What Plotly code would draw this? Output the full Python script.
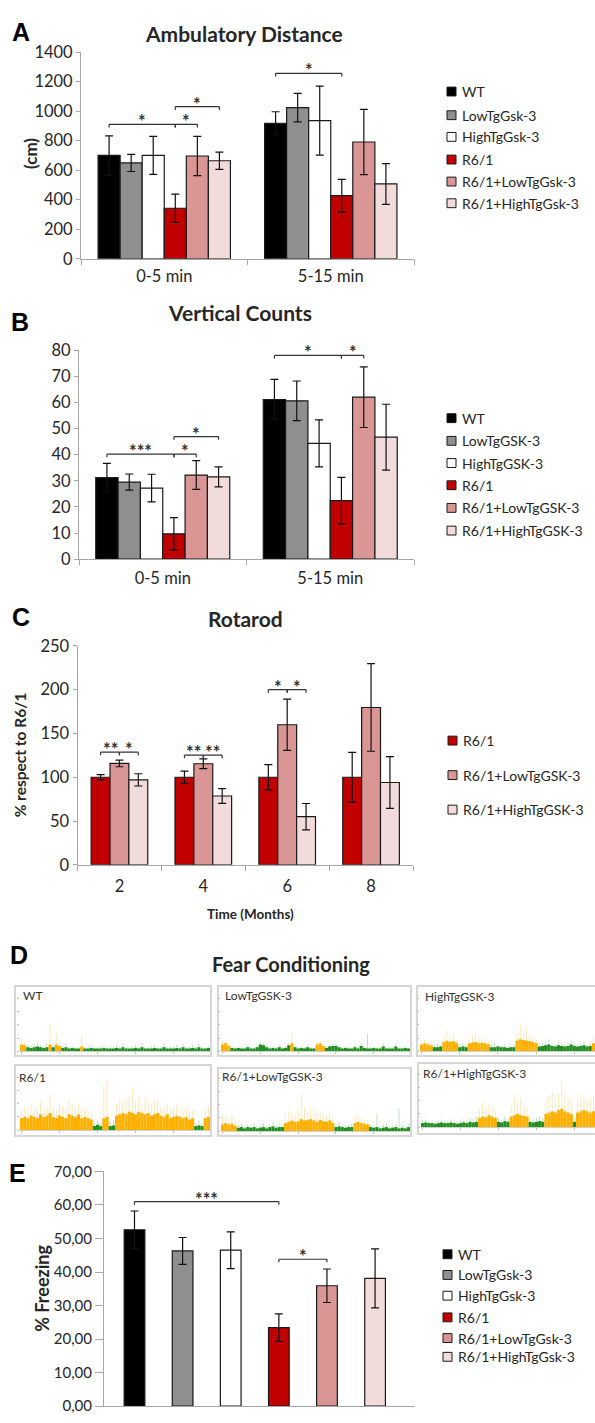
import plotly.graph_objects as go

W, H = 595, 1423
def fx(p): return p / W
def fy(p): return 1 - p / H

FONT = "Lato"
TXT = "#262626"
AX = "#a6a6a6"
EDGE = "#1a1a1a"
TICK = 16.5
TITLE = 21

# ---------------- data ----------------
genotypes_gsk = ["WT", "LowTgGsk-3", "HighTgGsk-3", "R6/1", "R6/1+LowTgGsk-3", "R6/1+HighTgGsk-3"]
genotypes_GSK = ["WT", "LowTgGSK-3", "HighTgGSK-3", "R6/1", "R6/1+LowTgGSK-3", "R6/1+HighTgGSK-3"]
genotypes_rot = ["R6/1", "R6/1+LowTgGSK-3", "R6/1+HighTgGSK-3"]
colors6 = ["#000000", "#8f8f8f", "#ffffff", "#c00000", "#d99694", "#f2dcdb"]
colors_rot = ["#c00000", "#d99694", "#f2dcdb"]
periods = ["0-5 min", "5-15 min"]
months = ["2", "4", "6", "8"]

# A: Ambulatory distance (cm)
amb_0_5 = [700, 649, 700, 342, 696, 664]
amb_0_5_err = [133, 58, 129, 96, 133, 59]
amb_5_15 = [918, 1024, 936, 427, 791, 507]
amb_5_15_err = [78, 97, 234, 111, 221, 138]
amb_ticks = [0, 200, 400, 600, 800, 1000, 1200, 1400]
# brackets: (group, bar_i, bar_j, height, label)
amb_sig = [(0, 0, 3, 911, "*"), (0, 3, 4, 911, "*"), (0, 3, 5, 1030, "*"), (1, 0, 3, 1256, "*")]

# B: Vertical counts
vc_0_5 = [31.2, 29.5, 27.2, 9.7, 32.2, 31.5]
vc_0_5_err = [5.5, 3.1, 5.3, 6.2, 5.5, 3.8]
vc_5_15 = [61.1, 60.6, 44.3, 22.4, 62.0, 46.7]
vc_5_15_err = [7.7, 7.6, 9.0, 8.9, 11.6, 12.6]
vc_ticks = [0, 10, 20, 30, 40, 50, 60, 70, 80]
vc_sig = [(0, 0, 3, 40.2, "***"), (0, 3, 4, 40.2, "*"), (0, 3, 5, 46.9, "*"),
          (1, 0, 3, 78.0, "*"), (1, 3, 4, 78.0, "*")]

# C: Rotarod (% respect to R6/1)
rot_r6 = [100, 100, 100, 100]
rot_r6_err = [3, 7, 14.5, 28.4]
rot_low = [115.8, 115.4, 160, 179.7]
rot_low_err = [3.8, 5.6, 29.3, 50]
rot_high = [97, 78.6, 55, 94]
rot_high_err = [7, 8.5, 15, 29.5]
rot_ticks = [0, 50, 100, 150, 200, 250]
rot_sig = [(0, 0, 1, 128.6, "**"), (0, 1, 2, 128.6, "*"), (1, 0, 1, 125.2, "**"),
           (1, 1, 2, 125.2, "**"), (2, 0, 1, 200, "*"), (2, 1, 2, 200, "*")]

# E: % Freezing
freeze = [52.6, 46.3, 46.5, 23.4, 35.9, 38.1]
freeze_err = [5.6, 4.0, 5.5, 4.1, 5.0, 8.8]
freeze_tickvals = [0, 10, 20, 30, 40, 50, 60, 70]
freeze_ticktext = ["0,00", "10,00", "20,00", "30,00", "40,00", "50,00", "60,00", "70,00"]
freeze_sig = [(0, 3, 61.0, "***"), (3, 4, 43.8, "*")]

# D: fear conditioning traces (activity level per time bin, and bins flagged orange)
fc_names = ["WT", "LowTgGSK-3", "HighTgGSK-3", "R6/1", "R6/1+LowTgGSK-3", "R6/1+HighTgGSK-3"]
wt_base = [0.5,0.45,0.3,0.25,0.3,0.35,0.3,0.25,0.3,0.5,0.3,0.5,0.4,0.25,0.3,0.2,0.25,0.2,0.2,0.35,
           0.2,0.2,0.25,0.2,0.2,0.2,0.25,0.2,0.2,0.2,0.25,0.2,0.3,0.2,0.2,0.2,0.25,0.2,0.3,0.2,
           0.2,0.2,0.25,0.2,0.2,0.3,0.2,0.2,0.2,0.25,0.2,0.3,0.2,0.2,0.25,0.2,0.3,0.2,0.2,0.25]
wt_peak = [0.9,0.7,0.5,0.4,0.6,0.7,0.5,0.4,0.6,2.0,0.5,1.4,0.9,0.4,0.6,0.3,0.4,0.3,0.3,1.2,
           0.3,0.4,0.5,0.3,0.3,0.4,0.5,0.3,0.3,0.4,0.5,0.3,0.6,0.3,0.3,0.4,0.5,0.3,0.6,0.3,
           0.3,0.4,0.5,0.3,0.4,0.6,0.3,0.3,0.4,0.5,0.3,0.6,0.3,0.3,0.5,0.3,0.6,0.3,0.3,0.4]
wt_orange = [[0, 1], [9, 9], [11, 12], [19, 19]]

low_base = [0.5,0.6,0.4,0.25,0.2,0.25,0.2,0.2,0.3,0.2,0.2,0.3,0.5,0.45,0.3,0.2,0.25,0.2,0.3,0.2,
            0.25,0.45,0.6,0.3,0.2,0.25,0.2,0.3,0.2,0.2,0.5,0.6,0.4,0.25,0.35,0.4,0.4,0.3,0.2,0.25,
            0.2,0.2,0.3,0.2,0.4,0.25,0.2,0.2,0.25,0.2,0.2,0.35,0.2,0.2,0.2,0.35,0.2,0.2,0.25,0.2]
low_peak = [0.8,0.9,0.6,0.4,0.3,0.4,0.3,0.3,0.5,0.3,0.3,0.5,0.7,0.6,0.4,0.3,0.4,0.3,0.5,0.3,
            0.4,0.6,1.4,0.5,0.3,0.4,0.3,0.5,0.3,0.3,0.7,0.8,0.6,0.4,0.5,0.6,0.6,0.4,0.3,0.4,
            0.3,0.3,0.5,0.3,0.6,0.4,1.3,0.3,0.4,0.3,0.3,0.6,0.3,0.3,0.3,0.6,0.3,0.3,0.4,0.3]
low_orange = [[0, 2], [22, 22], [30, 32]]

high_base = [0.5,0.6,0.5,0.45,0.3,0.3,0.35,0.7,0.8,0.7,0.75,0.6,0.3,0.35,0.3,0.6,0.65,0.7,0.6,0.65,
             0.6,0.5,0.3,0.3,0.35,0.3,0.3,0.25,0.3,0.3,0.8,0.9,0.85,0.8,0.75,0.7,0.6,0.35,0.4,0.45,
             0.5,0.4,0.35,0.45,0.4,0.35,0.4,0.5,0.4,0.35,0.4,0.45,0.35,0.4,0.6]
high_peak = [0.8,0.9,0.8,0.7,0.5,0.6,0.5,1.2,1.6,1.1,1.3,0.9,0.5,0.6,0.4,1.0,1.2,1.4,1.0,1.1,
             0.9,0.8,0.5,0.6,0.5,0.4,0.5,0.4,0.4,0.5,1.3,2.0,1.6,1.8,1.3,1.2,0.9,0.6,0.6,0.7,
             0.9,0.6,0.5,0.7,0.6,0.5,0.6,0.8,0.6,0.5,0.6,0.7,0.5,0.6,1.2]
high_orange = [[0, 3], [7, 11], [15, 21], [30, 36], [54, 54]]

r6_base = [0.9,1.0,0.9,1.1,1.0,0.9,1.2,1.0,1.1,1.3,1.0,0.9,1.1,1.0,0.9,1.2,1.1,1.0,1.2,0.9,
           1.0,0.9,0.8,0.3,0.4,0.3,0.9,1.0,0.3,0.35,1.1,1.2,1.3,1.2,1.4,1.3,1.2,1.4,1.3,1.2,
           1.3,1.1,1.2,1.3,1.1,1.0,1.2,0.9,1.0,1.1,1.0,0.9,1.0,0.8,0.9,0.3,0.35,0.3,0.9,1.0]
r6_peak = [1.5,1.8,1.6,2.0,1.5,1.7,2.2,1.6,1.8,2.7,1.7,1.5,2.0,1.8,1.6,2.3,1.9,1.7,2.0,1.6,
           1.7,1.5,1.3,0.6,0.7,0.6,3.4,3.8,0.6,0.7,2.0,2.4,2.1,2.3,2.6,3.2,2.2,2.5,2.0,2.5,
           2.2,1.9,2.1,2.3,1.8,1.7,2.0,1.6,1.8,1.9,1.5,1.6,1.7,1.4,1.5,0.6,0.7,0.6,1.6,1.8]
r6_orange = [[0, 22], [26, 27], [30, 54], [58, 59]]

r6low_base = [0.5,0.6,0.5,0.55,0.4,0.25,0.3,0.2,0.3,0.25,0.3,0.2,0.25,0.3,0.2,0.3,0.35,0.25,0.3,0.3,
              0.6,0.7,0.8,0.7,0.75,0.9,0.8,0.85,0.9,0.8,0.7,0.85,0.75,0.7,0.8,0.6,0.3,0.35,0.3,0.25,
              0.3,0.3,0.6,0.7,0.6,0.55,0.5,0.3,0.25,0.3,0.2,0.25,0.3,0.2,0.25,0.3,0.2,0.25,0.2,0.3]
r6low_peak = [1.1,1.3,1.0,1.2,0.8,0.5,0.6,0.4,0.5,0.4,0.6,0.4,0.5,0.6,0.4,0.5,0.7,0.5,0.6,0.5,
              1.2,1.5,1.4,1.2,1.6,2.9,1.8,1.5,1.8,1.6,1.4,1.5,1.3,1.2,1.4,1.0,0.6,0.7,0.5,0.4,
              0.5,0.6,1.1,1.2,1.0,0.9,0.8,0.5,0.4,1.3,0.4,0.5,0.6,0.4,0.5,0.6,1.7,0.5,0.4,0.5]
r6low_orange = [[0, 4], [20, 35], [42, 46]]

r6high_base = [0.3,0.35,0.3,0.3,0.25,0.3,0.35,0.3,0.3,0.35,0.3,0.25,0.3,0.35,0.3,0.4,0.35,0.4,0.7,0.8,
               0.75,0.9,0.8,0.7,0.4,0.35,0.45,0.4,0.8,0.9,1.0,0.9,0.85,0.8,0.4,0.35,0.4,0.45,0.4,1.0,
               1.1,1.2,1.1,1.3,1.4,1.2,1.1,1.0,0.4,1.1,1.2,1.3,1.2,1.1,1.2]
r6high_peak = [0.5,0.6,0.5,0.5,0.4,0.5,0.6,0.5,0.5,0.6,0.5,0.4,0.5,0.6,0.5,0.7,0.6,0.8,1.4,1.9,
               1.5,1.8,1.6,1.3,0.7,0.6,0.8,0.7,1.6,2.5,1.9,2.2,1.7,1.5,0.7,0.6,0.7,0.8,0.7,2.0,
               2.4,2.7,2.2,2.5,3.4,2.6,2.3,2.0,0.7,2.2,2.5,2.3,2.0,2.1,2.4]
r6high_orange = [[18, 23], [28, 33], [39, 47], [49, 54]]

fc_base = [wt_base, low_base, high_base, r6_base, r6low_base, r6high_base]
fc_peak = [wt_peak, low_peak, high_peak, r6_peak, r6low_peak, r6high_peak]
fc_orange = [wt_orange, low_orange, high_orange, r6_orange, r6low_orange, r6high_orange]

# ---------------- figure ----------------
fig = go.Figure()
shapes = []
annots = []

def txt(x, y, s, size=14, bold=False, xanchor="center", yanchor="middle", angle=0,
        family=FONT, color=TXT):
    annots.append(dict(x=fx(x), y=fy(y), xref="paper", yref="paper", text=("<b>%s</b>" % s) if bold else s,
                       showarrow=False, xanchor=xanchor, yanchor=yanchor, textangle=angle, borderpad=0,
                       font=dict(family=family, size=size, color=color)))

def ybase(domain_px, rng, ticks, ticktext=None, size=TICK, ticklen=4):
    d = dict(domain=[fy(domain_px[1]), fy(domain_px[0])], range=rng, tickvals=ticks,
             showline=True, linecolor=AX, linewidth=1, ticks="outside", tickcolor=AX, ticklen=ticklen,
             showgrid=False, zeroline=False, tickfont=dict(family=FONT, size=size, color=TXT))
    if ticktext is not None:
        d["ticktext"] = ticktext
    return d

def xcat(domain_px, cats, labels=True, standoff=6):
    return dict(domain=[fx(domain_px[0]), fx(domain_px[1])], type="category",
                categoryorder="array", categoryarray=cats, range=[-0.5, len(cats) - 0.5],
                showline=True, linecolor=AX, linewidth=1, ticks="outside" if labels else "",
                tickson="boundaries", tickcolor=AX, ticklen=5, showgrid=False, zeroline=False,
                showticklabels=labels, ticklabelstandoff=standoff,
                tickfont=dict(family=FONT, size=TICK, color=TXT))

def grouped(xa, ya, cats, means_by_group, errs_by_group, colors, names, frac):
    n = len(names)
    w = frac / n
    for i in range(n):
        fig.add_trace(go.Bar(
            x=cats, y=[m[i] for m in means_by_group], name=names[i],
            width=w, offset=-frac / 2 + i * w,
            marker=dict(color=colors[i], line=dict(color=EDGE, width=1.2)),
            error_y=dict(type="data", array=[e[i] for e in errs_by_group], color="#111111",
                         thickness=1.2, width=4),
            xaxis=xa, yaxis=ya, showlegend=False))

def center(g, i, n, frac):
    return g - frac / 2 + (i + 0.5) * frac / n

def bracket(xa, ya, x0, x1, y, tick, label, star_size=18):
    for (a, b, c, d) in [(x0, y, x1, y), (x0, y, x0, y - tick), (x1, y, x1, y - tick)]:
        shapes.append(dict(type="line", xref=xa, yref=ya, x0=a, y0=b, x1=c, y1=d,
                           line=dict(color="#333333", width=1.2)))
    annots.append(dict(x=(x0 + x1) / 2, y=y, xref=xa, yref=ya, text="<b>%s</b>" % label, showarrow=False,
                       xanchor="center", yanchor="bottom", yshift=-9, borderpad=0,
                       font=dict(family=FONT, size=star_size, color="#333333")))

def legend(names, colors, xsq, ycs, xt, size=14):
    for nm, c, yc in zip(names, colors, ycs):
        shapes.append(dict(type="rect", xref="paper", yref="paper", x0=fx(xsq), x1=fx(xsq + 9),
                           y0=fy(yc + 4.5), y1=fy(yc - 4.5), fillcolor=c,
                           line=dict(color=EDGE, width=1)))
        txt(xt, yc, nm, size=size, xanchor="left")

layout = dict(width=W, height=H, margin=dict(l=0, r=0, t=0, b=0), paper_bgcolor="white",
              plot_bgcolor="rgba(0,0,0,0)", barmode="overlay", showlegend=False)

# ---- A ----
FA = 0.795
grouped("x", "y", periods, [amb_0_5, amb_5_15], [amb_0_5_err, amb_5_15_err], colors6, genotypes_gsk, FA)
layout["xaxis"] = xcat((81, 414), periods, standoff=2)
layout["yaxis"] = ybase((42.7, 252.3), [0, 1400], amb_ticks)
for g, i, j, h, lab in amb_sig:
    bracket("x", "y", center(g, i, 6, FA), center(g, j, 6, FA), h, 22, lab)
txt(21, 22, "A", size=25, bold=True, family="Liberation Sans", color="black")
txt(244, 24, "Ambulatory Distance", size=TITLE, bold=True)
txt(31, 146, "(cm)", size=17, bold=True, angle=-90)
legend(genotypes_gsk, colors6, 447, [82.7, 106.7, 128.7, 151.7, 174, 196], 461)

# ---- B ----
FB = 0.80
grouped("x2", "y2", periods, [vc_0_5, vc_5_15], [vc_0_5_err, vc_5_15_err], colors6, genotypes_GSK, FB)
layout["xaxis2"] = xcat((79, 414), periods, standoff=4)
layout["xaxis2"]["anchor"] = "y2"
layout["yaxis2"] = ybase((345, 557), [0, 80], vc_ticks)
layout["yaxis2"]["anchor"] = "x2"
for g, i, j, h, lab in vc_sig:
    bracket("x2", "y2", center(g, i, 6, FB), center(g, j, 6, FB), h, 1.2, lab)
txt(20, 316, "B", size=25, bold=True, family="Liberation Sans", color="black")
txt(240, 307, "Vertical Counts", size=TITLE, bold=True)
legend(genotypes_GSK, colors6, 447, [414, 437, 459.5, 482, 505, 528], 461)

# ---- C ----
FC = 0.675
grouped("x3", "y3", months, [[a, b, c] for a, b, c in zip(rot_r6, rot_low, rot_high)],
        [[a, b, c] for a, b, c in zip(rot_r6_err, rot_low_err, rot_high_err)],
        colors_rot, genotypes_rot, FC)
layout["xaxis3"] = xcat((77.5, 413), months, standoff=6)
layout["xaxis3"]["anchor"] = "y3"
layout["yaxis3"] = ybase((645, 867), [0, 250], rot_ticks)
layout["yaxis3"]["anchor"] = "x3"
for g, i, j, h, lab in rot_sig:
    bracket("x3", "y3", center(g, i, 3, FC), center(g, j, 3, FC), h, 3.5, lab)
txt(21, 616, "C", size=25, bold=True, family="Liberation Sans", color="black")
txt(246, 617, "Rotarod", size=TITLE, bold=True)
txt(20, 756, "% respect to R6/1", size=15.5, bold=True, angle=-90)
txt(250, 917, "Time (Months)", size=13.5, bold=True)
legend(genotypes_rot, colors_rot, 448, [741, 776, 811], 462)

# ---- D ----
ORANGE, ORANGE_L = "#ffb000", "rgba(255,190,60,0.4)"
GREEN, GREEN_L = "#1f8f1f", "rgba(70,165,70,0.35)"
d_axes = [(20, 210, 1056, 990), (221, 410, 1056, 990), (420, 595, 1056, 990),
          (20, 210, 1136, 1070), (221, 410, 1137, 1073), (421, 595, 1133, 1068)]
d_frames = [(15, 211, 990, 1061), (218, 411, 990, 1061), (417, 600, 990, 1061),
            (15, 211, 1070, 1142), (218, 411, 1073, 1142), (418, 600, 1068, 1140)]
d_label_pos = [(22, 1000), (224, 1000), (424, 1001), (18, 1083), (221, 1082), (422, 1079)]
for k in range(6):
    ax = k + 4
    xa, ya = "x%d" % ax, "y%d" % ax
    base, peak, org = fc_base[k], fc_peak[k], fc_orange[k]
    n = len(base)
    is_org = [any(a <= t <= b for a, b in org) for t in range(n)]
    fig.add_trace(go.Bar(x=list(range(n)), y=peak, width=0.3, offset=-0.15,
                         marker=dict(color=[ORANGE_L if o else GREEN_L for o in is_org], line=dict(width=0)),
                         xaxis=xa, yaxis=ya, showlegend=False, hoverinfo="skip"))
    fig.add_trace(go.Bar(x=list(range(n)), y=base, width=1.0, offset=-0.5,
                         marker=dict(color=[ORANGE if o else GREEN for o in is_org], line=dict(width=0)),
                         xaxis=xa, yaxis=ya, showlegend=False, name=fc_names[k]))
    l, r, b, t = d_axes[k]
    layout["xaxis%d" % ax] = dict(domain=[fx(l), fx(r)], range=[-0.5, n - 0.5], anchor=ya,
                                  showticklabels=False, showline=True, linecolor="#cfcfcf",
                                  ticks="outside", ticklen=2, tickcolor="#bdbdbd",
                                  tickvals=list(range(0, n, 12)), showgrid=False, zeroline=False)
    layout["yaxis%d" % ax] = dict(domain=[fy(b), fy(t)], range=[0, (b - t) / 13.3], anchor=xa,
                                  showticklabels=False, showline=False, ticks="outside", ticklen=2,
                                  tickcolor="#bdbdbd", tickvals=[0, 1, 2, 3, 4],
                                  showgrid=False, zeroline=False)
    fl, fr, ft, fb = d_frames[k]
    shapes.append(dict(type="rect", xref="paper", yref="paper", x0=fx(fl), x1=fx(fr),
                       y0=fy(fb), y1=fy(ft), line=dict(color="#d6d6d6", width=2),
                       fillcolor="rgba(0,0,0,0)", layer="below"))
    lx, ly = d_label_pos[k]
    txt(lx, ly, fc_names[k], size=12, xanchor="left", color="#333333")
txt(19, 958, "D", size=25, bold=True, family="Liberation Sans", color="black")
txt(291, 968, "Fear Conditioning", size=20, bold=True)

# ---- E ----
WE = 0.43
for i in range(6):
    fig.add_trace(go.Bar(x=[genotypes_gsk[i]], y=[freeze[i]], width=WE, offset=-WE / 2,
                         marker=dict(color=colors6[i], line=dict(color=EDGE, width=1.2)),
                         error_y=dict(type="data", array=[freeze_err[i]], color="#111111",
                                      thickness=1.2, width=4),
                         xaxis="x10", yaxis="y10", showlegend=False, name=genotypes_gsk[i]))
layout["xaxis10"] = dict(domain=[fx(104), fx(415)], type="category", categoryorder="array",
                         categoryarray=genotypes_gsk, range=[-0.634, 5.83], anchor="y10",
                         showline=True, linecolor=AX, ticks="", showticklabels=False,
                         showgrid=False, zeroline=False)
layout["yaxis10"] = ybase((1178, 1416), [0, 70], freeze_tickvals, freeze_ticktext, size=15, ticklen=8)
layout["yaxis10"]["anchor"] = "x10"
for i, j, h, lab in freeze_sig:
    bracket("x10", "y10", i, j, h, 0.9, lab)
txt(17, 1180, "E", size=25, bold=True, family="Liberation Sans", color="black")
txt(42, 1297, "% Freezing", size=18, bold=True, angle=-90)
legend(genotypes_gsk, colors6, 443, [1262, 1283, 1304, 1326, 1347, 1366], 457)

layout["xaxis"]["anchor"] = "y"
layout["yaxis"]["anchor"] = "x"
layout["shapes"] = shapes
layout["annotations"] = annots
fig.update_layout(**layout)
fig.write_html("out.html", config={"displayModeBar": False},
               post_script="document.body.style.margin='0px';document.body.style.overflow='hidden';")
